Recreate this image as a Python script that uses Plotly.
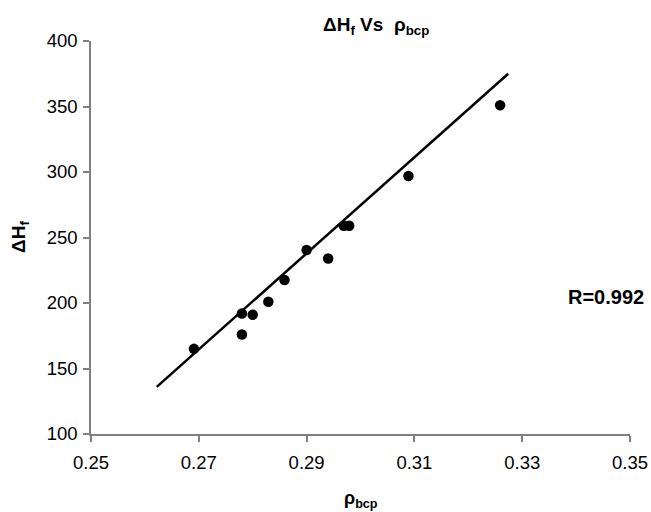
import plotly.graph_objects as go

rho_bcp = [0.2691, 0.2780, 0.2780, 0.2800, 0.2829, 0.2859, 0.2900, 0.2940, 0.2969, 0.2979, 0.3089, 0.3259]
delta_hf = [165, 192, 176, 191, 201, 217.5, 240.5, 234, 259, 259, 297, 351]
trend_x = [0.2622, 0.3274]
trend_y = [136, 375]
x_ticks = [0.25, 0.27, 0.29, 0.31, 0.33, 0.35]
y_ticks = [100, 150, 200, 250, 300, 350, 400]

FONT = "Liberation Sans, Arial, sans-serif"

# plot area target (page px): x 91..630, y 41..434
W, H = 651, 512
L, R_, T, B = 91, 630, 41, 434
PW, PH = R_ - L, B - T

def px(xp):
    return (xp - L) / PW

def py(yp):
    return (B - yp) / PH

fig = go.Figure()
fig.add_trace(go.Scatter(x=trend_x, y=trend_y, mode="lines",
                         line=dict(color="black", width=2.5), showlegend=False, hoverinfo="skip"))
fig.add_trace(go.Scatter(x=rho_bcp, y=delta_hf, mode="markers",
                         marker=dict(color="black", size=10.5), showlegend=False))

axis_common = dict(showgrid=False, zeroline=False, showline=True, linecolor="#808080",
                   linewidth=1.5, ticks="outside", tickcolor="#808080", ticklen=6, tickwidth=1.5,
                   tickfont=dict(family=FONT, size=18.5, color="black"), mirror=False,
                   automargin=False)

fig.update_layout(
    width=W, height=H, autosize=False,
    margin=dict(l=L, r=W - R_, t=T, b=H - B, autoexpand=False),
    plot_bgcolor="white", paper_bgcolor="white",
    xaxis=dict(range=[0.25, 0.35], tickvals=x_ticks, ticktext=[f"{v:.2f}" for v in x_ticks],
               ticklabelstandoff=5, **axis_common),
    yaxis=dict(range=[100, 400], tickvals=y_ticks, ticklabelstandoff=2, **axis_common),
    annotations=[
        dict(text="<b>ΔH<sub>f</sub> Vs  ρ<sub>bcp</sub></b>", xref="paper", yref="paper",
             x=px(376), y=py(26), showarrow=False,
             font=dict(family=FONT, size=19, color="black"), xanchor="center", yanchor="middle"),
        dict(text="<b>ΔH<sub>f</sub></b>", xref="paper", yref="paper", x=px(20),
             y=py(237), textangle=-90, showarrow=False,
             font=dict(family=FONT, size=19, color="black"), xanchor="center", yanchor="middle"),
        dict(text="<b>ρ<sub>bcp</sub></b>", xref="paper", yref="paper", x=px(361),
             y=py(499), showarrow=False,
             font=dict(family=FONT, size=18, color="black"), xanchor="center", yanchor="middle"),
        dict(text="<b>R=0.992</b>", xref="paper", yref="paper", x=px(606),
             y=py(297), showarrow=False,
             font=dict(family=FONT, size=20, color="black"), xanchor="center", yanchor="middle"),
    ],
)

fig.write_html("out.html", config={"displayModeBar": False},
               post_script="document.body.style.margin='0';")
